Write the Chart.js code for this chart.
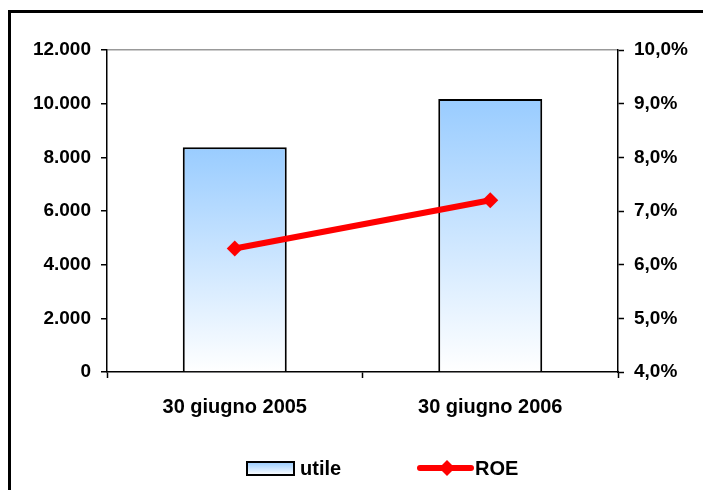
<!DOCTYPE html>
<html>
<head>
<meta charset="utf-8">
<script src="https://cdn.jsdelivr.net/npm/chart.js@4"></script>
<style>
  html, body { margin: 0; padding: 0; background: #fff; overflow: hidden; }
  #wrap { position: relative; width: 703px; height: 490px; overflow: hidden; }
  #ftop { position: absolute; left: 8px; top: 10px; width: 695px; height: 3px; background: #000; }
  #fleft { position: absolute; left: 8px; top: 10px; width: 3px; height: 480px; background: #000; }
  canvas { position: absolute; left: 0; top: 0; }
</style>
</head>
<body>
<div id="wrap">
  <div id="ftop"></div>
  <div id="fleft"></div>
  <canvas id="c" width="703" height="490"></canvas>
</div>
<script>
const categories = ['30 giugno 2005', '30 giugno 2006'];
const utile = [8380, 10170];
const roe = [6.3, 7.2];
const leftTicks = [0, 2000, 4000, 6000, 8000, 10000, 12000];
const rightTicks = [4, 5, 6, 7, 8, 9, 10];

const FONT = "'Liberation Sans', Arial, sans-serif";

function fmtThousands(v) {
  return String(Math.round(v)).replace(/\B(?=(\d{3})+(?!\d))/g, '.');
}

const legendPlugin = {
  id: 'customLegend',
  afterDraw(chart) {
    const ctx = chart.ctx;
    ctx.save();
    const bx = 247, by = 462, bw = 47, bh = 13;
    const g = ctx.createLinearGradient(0, by, 0, by + bh);
    g.addColorStop(0, '#99CCFF');
    g.addColorStop(1, '#FFFFFF');
    ctx.fillStyle = g;
    ctx.fillRect(bx, by, bw, bh);
    ctx.lineWidth = 2;
    ctx.strokeStyle = '#000';
    ctx.strokeRect(bx, by, bw, bh);
    ctx.fillStyle = '#000';
    ctx.font = 'bold 20px ' + FONT;
    ctx.textBaseline = 'middle';
    ctx.textAlign = 'left';
    ctx.fillText('utile', 300, 469);
    ctx.strokeStyle = '#FF0000';
    ctx.lineWidth = 6;
    ctx.lineCap = 'round';
    ctx.beginPath();
    ctx.moveTo(420, 468);
    ctx.lineTo(471, 468);
    ctx.stroke();
    ctx.fillStyle = '#FF0000';
    ctx.beginPath();
    ctx.moveTo(447, 460);
    ctx.lineTo(455, 468);
    ctx.lineTo(447, 476);
    ctx.lineTo(439, 468);
    ctx.closePath();
    ctx.fill();
    ctx.fillStyle = '#000';
    ctx.fillText('ROE', 475, 469);
    ctx.restore();
  }
};

new Chart(document.getElementById('c'), {
  data: {
    labels: categories,
    datasets: [
      {
        type: 'line',
        label: 'ROE',
        data: roe,
        yAxisID: 'y1',
        borderColor: '#FF0000',
        backgroundColor: '#FF0000',
        borderWidth: 6,
        pointStyle: 'rectRot',
        pointRadius: 8,
        pointHoverRadius: 8,
        pointBorderWidth: 0,
        tension: 0,
        order: 1
      },
      {
        type: 'bar',
        label: 'utile',
        data: utile,
        yAxisID: 'y',
        backgroundColor: (c) => {
          const chart = c.chart;
          const s = chart.scales && chart.scales.y;
          if (!chart.chartArea || !s || c.raw === undefined) return '#BBDDFF';
          const top = s.getPixelForValue(c.raw);
          const bot = s.getPixelForValue(0);
          const g = chart.ctx.createLinearGradient(0, top, 0, bot);
          g.addColorStop(0, '#99CCFF');
          g.addColorStop(1, '#FFFFFF');
          return g;
        },
        borderColor: '#000',
        borderWidth: 2,
        categoryPercentage: 1,
        barPercentage: 0.407,
        order: 2
      }
    ]
  },
  options: {
    responsive: false,
    animation: false,
    devicePixelRatio: 1,
    layout: { padding: { top: 50, left: 0, right: 0, bottom: 0 } },
    plugins: {
      legend: { display: false },
      tooltip: { enabled: false }
    },
    scales: {
      x: {
        offset: true,
        afterFit: (s) => { s.height = 118; },
        grid: { offset: true, drawOnChartArea: false, tickLength: 6, tickColor: '#000', tickWidth: 1.5 },
        border: { display: true, color: '#000', width: 1.5 },
        ticks: { color: '#000', font: { family: FONT, size: 20, weight: 'bold' }, padding: 17, maxRotation: 0 }
      },
      y: {
        position: 'left',
        min: 0, max: 12000,
        afterFit: (s) => { s.width = 107; },
        afterBuildTicks: (s) => { s.ticks = leftTicks.map(v => ({ value: v })); },
        grid: {
          drawOnChartArea: true,
          color: (c) => (c.tick && c.tick.value === 12000) ? '#999999' : 'rgba(0,0,0,0)',
          lineWidth: 1.5,
          tickLength: 6,
          tickColor: '#000',
          tickWidth: 1.5
        },
        border: { display: true, color: '#000', width: 1.5 },
        ticks: {
          color: '#000',
          font: { family: FONT, size: 19, weight: 'bold' },
          padding: 10,
          callback: (v) => fmtThousands(v)
        }
      },
      y1: {
        position: 'right',
        min: 4, max: 10,
        afterFit: (s) => { s.width = 85; },
        afterBuildTicks: (s) => { s.ticks = rightTicks.map(v => ({ value: v })); },
        grid: { drawOnChartArea: false, tickLength: 6, tickColor: '#000', tickWidth: 1.5 },
        border: { display: true, color: '#000', width: 1.5 },
        ticks: {
          color: '#000',
          font: { family: FONT, size: 19, weight: 'bold' },
          padding: 10,
          callback: (v) => Number(v).toFixed(1).replace('.', ',') + '%'
        }
      }
    }
  },
  plugins: [legendPlugin]
});
</script>
</body>
</html>
